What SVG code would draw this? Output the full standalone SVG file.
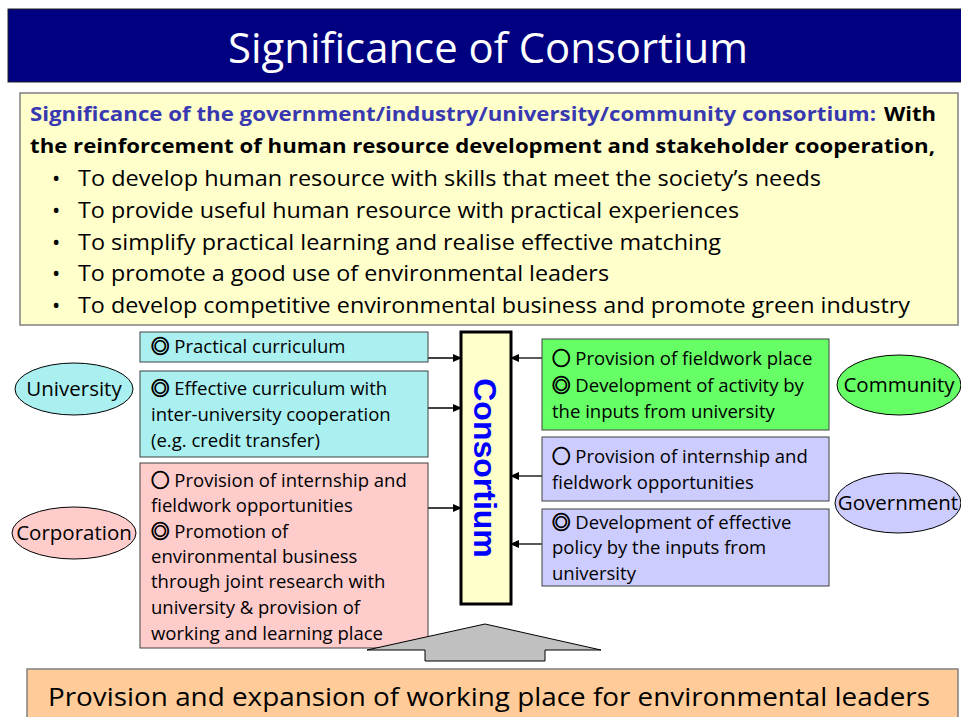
<svg xmlns="http://www.w3.org/2000/svg" width="961" height="717" viewBox="0 0 961 717">
<style>
.cal{font-family:"Open Sans","Noto Sans",sans-serif}
.bx{font-family:"Open Sans","Noto Sans CJK JP",sans-serif;font-size:18.5px;fill:#000}
.sy{font-family:"Noto Sans CJK JP",sans-serif;font-weight:bold;stroke:#000;stroke-width:0.9px}
.el{font-family:"Open Sans","Noto Sans",sans-serif;font-size:20.5px;fill:#000;text-anchor:middle}
.box{stroke:#404040;stroke-width:1}
.con{stroke:#000;stroke-width:1.3;fill:none;marker-end:url(#ah)}
</style>
<defs>
<marker id="ah" markerWidth="9" markerHeight="8" refX="8" refY="4" orient="auto" markerUnits="userSpaceOnUse">
<path d="M0,0 L9,4 L0,8 z" fill="#000"/>
</marker>
</defs>
<rect width="961" height="717" fill="#fff"/>

<g id="title">
<rect x="8" y="9" width="960" height="73" fill="#000080" stroke="#222" stroke-width="1"/>
<text class="cal" x="228" y="63" font-size="42" fill="#fff" textLength="520" lengthAdjust="spacingAndGlyphs">Significance of Consortium</text>
</g>

<g id="intro">
<rect x="20" y="93" width="938" height="232" fill="#FFFFCC" stroke="#808080" stroke-width="1.5"/>
<text class="cal" x="30" y="121" font-size="20" font-weight="bold" fill="#3838B0" textLength="846" lengthAdjust="spacingAndGlyphs">Significance of the government/industry/university/community consortium:</text>
<text class="cal" x="884" y="121" font-size="20" font-weight="bold" fill="#000" textLength="52" lengthAdjust="spacingAndGlyphs">With</text>
<text class="cal" x="30" y="153" font-size="20" font-weight="bold" fill="#000" textLength="905" lengthAdjust="spacingAndGlyphs">the reinforcement of human resource development and stakeholder cooperation,</text>
<g class="cal" font-size="22" fill="#000">
<text x="52" y="186">•</text>
<text x="78" y="186" textLength="743" lengthAdjust="spacingAndGlyphs">To develop human resource with skills that meet the society’s needs</text>
<text x="52" y="218">•</text>
<text x="78" y="218" textLength="661" lengthAdjust="spacingAndGlyphs">To provide useful human resource with practical experiences</text>
<text x="52" y="250">•</text>
<text x="78" y="250" textLength="643" lengthAdjust="spacingAndGlyphs">To simplify practical learning and realise effective matching</text>
<text x="52" y="281">•</text>
<text x="78" y="281" textLength="531" lengthAdjust="spacingAndGlyphs">To promote a good use of environmental leaders</text>
<text x="52" y="313">•</text>
<text x="78" y="313" textLength="832" lengthAdjust="spacingAndGlyphs">To develop competitive environmental business and promote green industry</text>
</g>
</g>

<g id="connectors">
<line class="con" x1="428" y1="358" x2="461" y2="358"/>
<line class="con" x1="428" y1="408" x2="461" y2="408"/>
<line class="con" x1="428" y1="508" x2="461" y2="508"/>
<line class="con" x1="542" y1="358" x2="511" y2="358"/>
<line class="con" x1="542" y1="476" x2="511" y2="476"/>
<line class="con" x1="542" y1="544" x2="511" y2="544"/>
</g>

<g id="university">
<ellipse cx="74" cy="389" rx="59" ry="26" fill="#AAF0F0" stroke="#000" stroke-width="1"/>
<text class="el" x="74" y="396">University</text>
</g>

<g id="uni-practical">
<rect class="box" x="140" y="332" width="288" height="30" fill="#AAF0F0"/>
<text class="bx" x="151" y="353"><tspan class="sy">◎</tspan> Practical curriculum</text>
</g>

<g id="uni-effective">
<rect class="box" x="140" y="371" width="288" height="86" fill="#AAF0F0"/>
<text class="bx" x="151" y="395"><tspan class="sy">◎</tspan> Effective curriculum with</text>
<text class="bx" x="151" y="421">inter-university cooperation</text>
<text class="bx" x="151" y="447">(e.g. credit transfer)</text>
</g>

<g id="corporation">
<ellipse cx="74" cy="533" rx="62" ry="26" fill="#FFCCCC" stroke="#000" stroke-width="1"/>
<text class="el" x="74" y="540">Corporation</text>
</g>

<g id="corp-box">
<rect class="box" x="140" y="463" width="288" height="185" fill="#FFCCCC"/>
<text class="bx" x="151" y="487"><tspan class="sy">○</tspan> Provision of internship and</text>
<text class="bx" x="151" y="512">fieldwork opportunities</text>
<text class="bx" x="151" y="538"><tspan class="sy">◎</tspan> Promotion of</text>
<text class="bx" x="151" y="563">environmental business</text>
<text class="bx" x="151" y="588">through joint research with</text>
<text class="bx" x="151" y="614">university &amp; provision of</text>
<text class="bx" x="151" y="640">working and learning place</text>
</g>

<g id="consortium">
<rect x="461" y="332" width="50" height="272" fill="#FFFFCC" stroke="#000" stroke-width="3"/>
<text transform="translate(474,468) rotate(90)" font-family="'Liberation Sans',Arial,sans-serif" font-weight="bold" font-size="32" fill="#0000FF" text-anchor="middle">Consortium</text>
</g>

<g id="comm-box">
<rect class="box" x="542" y="339" width="287" height="91" fill="#66FF66"/>
<text class="bx" x="552" y="365"><tspan class="sy">○</tspan> Provision of fieldwork place</text>
<text class="bx" x="552" y="392"><tspan class="sy">◎</tspan> Development of activity by</text>
<text class="bx" x="552" y="418">the inputs from university</text>
</g>

<g id="community">
<ellipse cx="899" cy="385" rx="62" ry="30" fill="#66FF66" stroke="#000" stroke-width="1"/>
<text class="el" x="899" y="392">Community</text>
</g>

<g id="gov-box1">
<rect class="box" x="542" y="437" width="287" height="64" fill="#CCCCFF"/>
<text class="bx" x="552" y="463"><tspan class="sy">○</tspan> Provision of internship and</text>
<text class="bx" x="552" y="489">fieldwork opportunities</text>
</g>

<g id="gov-box2">
<rect class="box" x="542" y="509" width="287" height="77" fill="#CCCCFF"/>
<text class="bx" x="552" y="529"><tspan class="sy">◎</tspan> Development of effective</text>
<text class="bx" x="552" y="554">policy by the inputs from</text>
<text class="bx" x="552" y="580">university</text>
</g>

<g id="government">
<ellipse cx="898" cy="503" rx="63" ry="30" fill="#CCCCFF" stroke="#000" stroke-width="1"/>
<text class="el" x="898" y="510">Government</text>
</g>

<g id="up-arrow">
<polygon points="485,624 601,650 545,650 545,661 425,661 425,650 367,650" fill="#C0C0C0" stroke="#000" stroke-width="1"/>
</g>

<g id="bottom">
<rect x="27" y="669" width="931" height="60" fill="#FFCC99" stroke="#808080" stroke-width="1.5"/>
<text class="cal" x="48" y="706" font-size="25" fill="#000" textLength="882" lengthAdjust="spacingAndGlyphs">Provision and expansion of working place for environmental leaders</text>
</g>
</svg>
